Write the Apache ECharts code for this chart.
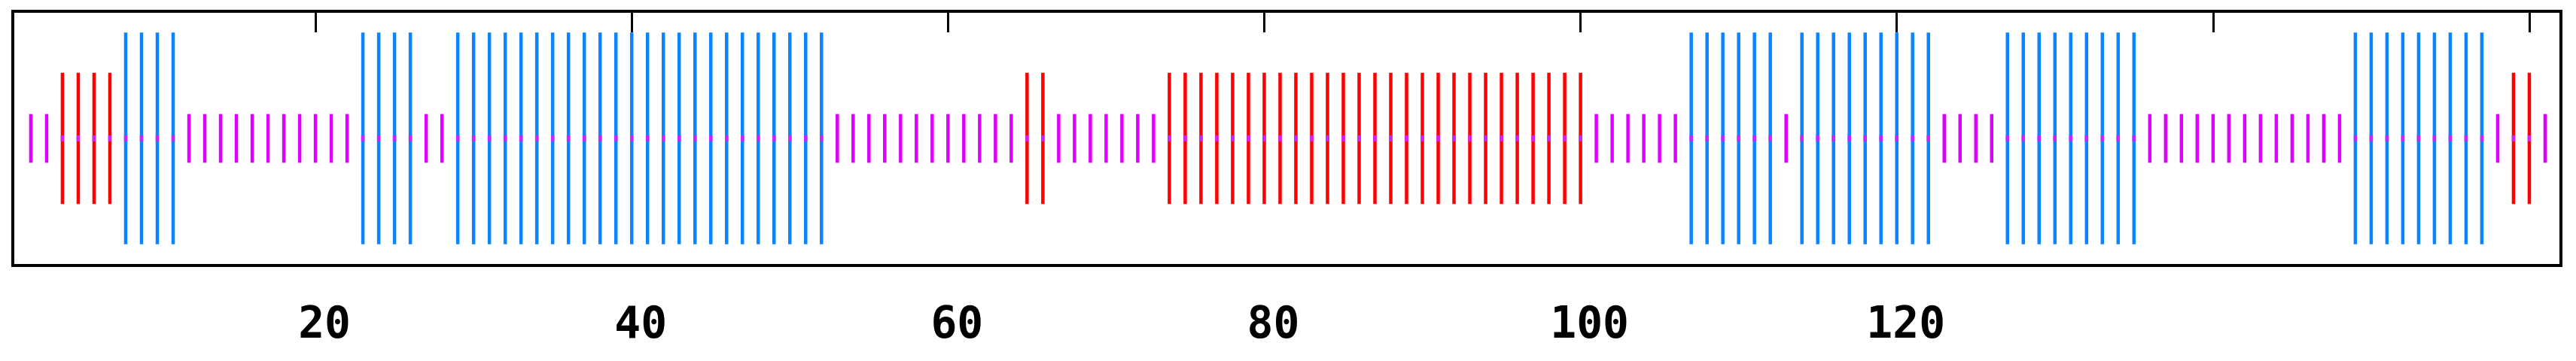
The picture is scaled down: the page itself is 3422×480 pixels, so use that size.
<!DOCTYPE html>
<html>
<head>
<meta charset="utf-8">
<script src="https://cdn.jsdelivr.net/npm/echarts@6/dist/echarts.min.js"></script>
<style>
  html, body { margin: 0; padding: 0; background: #fff; }
  #chart { width: 3422px; height: 480px; }
</style>
</head>
<body>
<div id="chart"></div>
<script>
// positions of the bars along the axis
const positions = [
  2, 3, 4, 5, 6, 7, 8, 9, 10, 11, 12, 13, 14, 15, 16, 17, 18, 19, 20, 21,
  22, 23, 24, 25, 26, 27, 28, 29, 30, 31, 32, 33, 34, 35, 36, 37, 38, 39, 40, 41,
  42, 43, 44, 45, 46, 47, 48, 49, 50, 51, 52, 53, 54, 55, 56, 57, 58, 59, 60, 61,
  62, 63, 64, 65, 66, 67, 68, 69, 70, 71, 72, 73, 74, 75, 76, 77, 78, 79, 80, 81,
  82, 83, 84, 85, 86, 87, 88, 89, 90, 91, 92, 93, 94, 95, 96, 97, 98, 99, 100, 101,
  102, 103, 104, 105, 106, 107, 108, 109, 110, 111, 112, 113, 114, 115, 116, 117, 118, 119, 120, 121,
  122, 123, 124, 125, 126, 127, 128, 129, 130, 131, 132, 133, 134, 135, 136, 137, 138, 139, 140, 141,
  142, 143, 144, 145, 146, 147, 148, 149, 150, 151, 152, 153, 154, 155, 156, 157, 158, 159, 160, 161
]
// M = short magenta, R = medium red, B = tall blue
const kinds = [
  'M','M','R','R','R','R','B','B','B','B','M','M','M','M','M','M','M','M','M','M',
  'M','B','B','B','B','M','M','B','B','B','B','B','B','B','B','B','B','B','B','B',
  'B','B','B','B','B','B','B','B','B','B','B','M','M','M','M','M','M','M','M','M',
  'M','M','M','R','R','M','M','M','M','M','M','M','R','R','R','R','R','R','R','R',
  'R','R','R','R','R','R','R','R','R','R','R','R','R','R','R','R','R','R','R','M',
  'M','M','M','M','M','B','B','B','B','B','B','M','B','B','B','B','B','B','B','B',
  'B','M','M','M','M','B','B','B','B','B','B','B','B','B','M','M','M','M','M','M',
  'M','M','M','M','M','M','M','B','B','B','B','B','B','B','B','B','M','R','R','M'
]
const kindHeight = { M: 0.23, R: 0.62, B: 1.0 }
const kindColor = { M: '#dd00ff', R: '#ff0000', B: '#0a84ff' }
const tickLabels = [20, 40, 60, 80, 100, 120]

const xMin = 0.86
const xMax = 162.0

const seriesData = positions.map((p, i) => [p, kindHeight[kinds[i]]])

const chart = echarts.init(document.getElementById('chart'))

const option = {
  animation: false,
  backgroundColor: '#fff',
  grid: {
    left: 17,
    right: 20,
    top: 15,
    bottom: 127,
    show: true,
    borderColor: '#000',
    borderWidth: 4,
    backgroundColor: '#fff',
  },
  xAxis: [
    {
      type: 'value',
      position: 'bottom',
      min: xMin,
      max: xMax,
      splitNumber: 8,
      axisLine: { show: false },
      splitLine: { show: false },
      axisTick: {
        show: true,
        inside: true,
        length: 27,
        lineStyle: { color: '#000', width: 3 },
      },
      axisLabel: {
        show: true,
        showMinLabel: true,
        showMaxLabel: true,
        margin: 52,
        padding: [0, 0, 0, 24],
        color: '#000',
        fontSize: 58,
        fontWeight: 'bold',
        fontFamily: 'DejaVu Sans Mono',
        formatter(v) {
          return tickLabels.indexOf(Math.round(v)) >= 0 && Math.abs(v - Math.round(v)) < 1e-6 ? String(v) : ''
        },
      },
    },
    {
      type: 'value',
      position: 'top',
      min: xMin,
      max: xMax,
      splitNumber: 8,
      axisLine: { show: false },
      splitLine: { show: false },
      axisLabel: { show: false },
      axisTick: {
        show: true,
        inside: true,
        length: 28,
        lineStyle: { color: '#000', width: 3 },
      },
    },
  ],
  yAxis: {
    type: 'value',
    min: -1.2,
    max: 1.2,
    show: false,
  },
  series: [
    {
      type: 'custom',
      xAxisIndex: 0,
      data: seriesData,
      renderItem(params, api) {
        const x = api.value(0)
        const h = api.value(1)
        const kind = kinds[params.dataIndex]
        const top = api.coord([x, h])
        const bot = api.coord([x, -h])
        const mid = api.coord([x, 0])
        const children = [
          {
            type: 'line',
            shape: { x1: top[0], y1: top[1], x2: bot[0], y2: bot[1] },
            style: { stroke: kindColor[kind], lineWidth: 4.5 },
          },
        ]
        if (kind !== 'M') {
          // small magenta mark where the line crosses the middle
          children.push({
            type: 'line',
            shape: { x1: mid[0], y1: mid[1] - 4, x2: mid[0], y2: mid[1] + 4 },
            style: { stroke: '#cc22ff', lineWidth: 4.5 },
          })
        }
        return { type: 'group', children: children }
      },
    },
  ],
}

chart.setOption(option)
</script>
</body>
</html>
